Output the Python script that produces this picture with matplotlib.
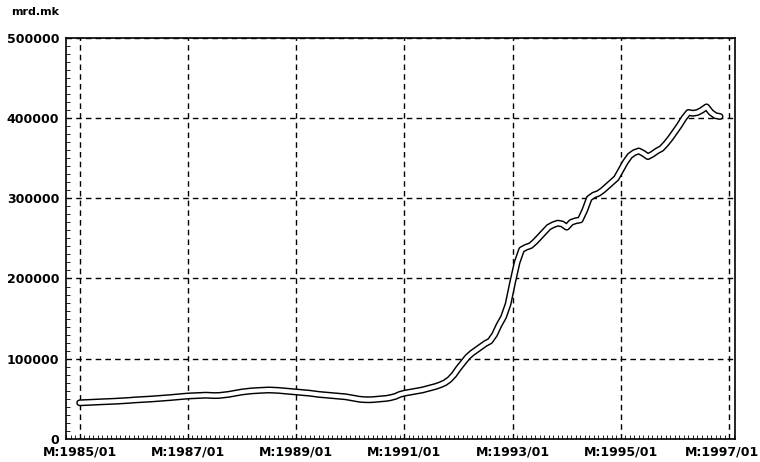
import matplotlib
matplotlib.use("Agg")
import matplotlib.pyplot as plt
import matplotlib.transforms as mtransforms
from matplotlib.ticker import MultipleLocator
import numpy as np

# Monthly values (mrd.mk), 1985/01 .. 1996/11
v1985 = [45000, 45200, 45500, 45800, 46000, 46300, 46500, 46800, 47000, 47300, 47600, 48000]
v1986 = [48500, 48800, 49200, 49500, 49800, 50200, 50500, 51000, 51500, 52000, 52500, 53000]
v1987 = [53500, 53800, 54000, 54200, 54500, 54300, 54000, 54200, 54800, 55500, 56500, 57500]
v1988 = [58500, 59200, 59800, 60200, 60500, 60800, 61000, 60800, 60500, 60000, 59500, 59000]
v1989 = [58500, 58000, 57500, 57000, 56200, 55500, 55000, 54500, 54000, 53500, 53000, 52500]
v1990 = [51500, 50500, 49500, 49000, 48800, 49000, 49500, 50000, 50500, 51500, 53000, 55500]
v1991 = [57000, 58000, 59000, 60000, 61000, 62500, 64000, 65500, 67500, 70000, 74000, 80000]
v1992 = [88000, 95000, 102000, 107000, 111000, 115000, 119000, 122000, 130000, 142000, 152000, 168000]
v1993 = [195000, 220000, 236000, 239000, 241000, 246000, 252000, 258000, 264000, 267000, 269000, 268000]
v1994 = [264000, 270000, 272000, 273000, 285000, 300000, 304000, 306000, 310000, 315000, 320000, 325000]
v1995 = [335000, 345000, 353000, 357000, 359000, 356000, 352000, 355000, 359000, 362000, 368000, 375000]
v1996 = [383000, 391000, 400000, 407000, 406000, 407000, 410000, 414000, 407000, 403000, 402000]

values = v1985 + v1986 + v1987 + v1988 + v1989 + v1990 + v1991 + v1992 + v1993 + v1994 + v1995 + v1996
months = np.arange(len(values))

tick_labels = ["M:1985/01", "M:1987/01", "M:1989/01", "M:1991/01",
               "M:1993/01", "M:1995/01", "M:1997/01"]
y_ticks = [0, 100000, 200000, 300000, 400000, 500000]

fig = plt.figure(figsize=(7.6, 4.62), dpi=100)
ax = fig.add_axes([0.087, 0.05, 0.880, 0.868])

# double line: thick black with white inside
ax.plot(months, values, color="black", lw=5.0, solid_capstyle="round", zorder=3)
ax.plot(months, values, color="white", lw=2.9, solid_capstyle="round", zorder=4)

ax.set_xlim(-3, 145.3)
ax.set_ylim(0, 500000)
ax.set_xticks(np.arange(0, 145, 24))
ax.set_xticklabels(tick_labels)
ax.set_yticks(y_ticks)
ax.set_yticklabels([str(t) for t in y_ticks])
ax.xaxis.set_minor_locator(MultipleLocator(1))
ax.yaxis.set_minor_locator(MultipleLocator(10000))

ax.grid(True, which="major", color="black", linestyle=(0, (4, 3)), lw=1.0)
ax.tick_params(which="both", direction="in", color="black")
ax.tick_params(which="major", length=0, labelsize=9, pad=5)
ax.tick_params(which="minor", length=3, width=0.6)
ax.tick_params(axis="x", which="minor", top=False)
for lab in ax.get_xticklabels() + ax.get_yticklabels():
    lab.set_fontweight("bold")
    lab.set_family("DejaVu Sans")
for s in ax.spines.values():
    s.set_linewidth(1.2)

# keep the last date label inside the picture
last = ax.get_xticklabels()[-1]
last.set_transform(last.get_transform() +
                   mtransforms.ScaledTranslation(-7 / 100, 0, fig.dpi_scale_trans))

fig.text(0.015, 0.975, "mrd.mk", fontsize=8, fontweight="bold",
         family="DejaVu Sans", va="center")

fig.savefig("out.png", dpi=100)
